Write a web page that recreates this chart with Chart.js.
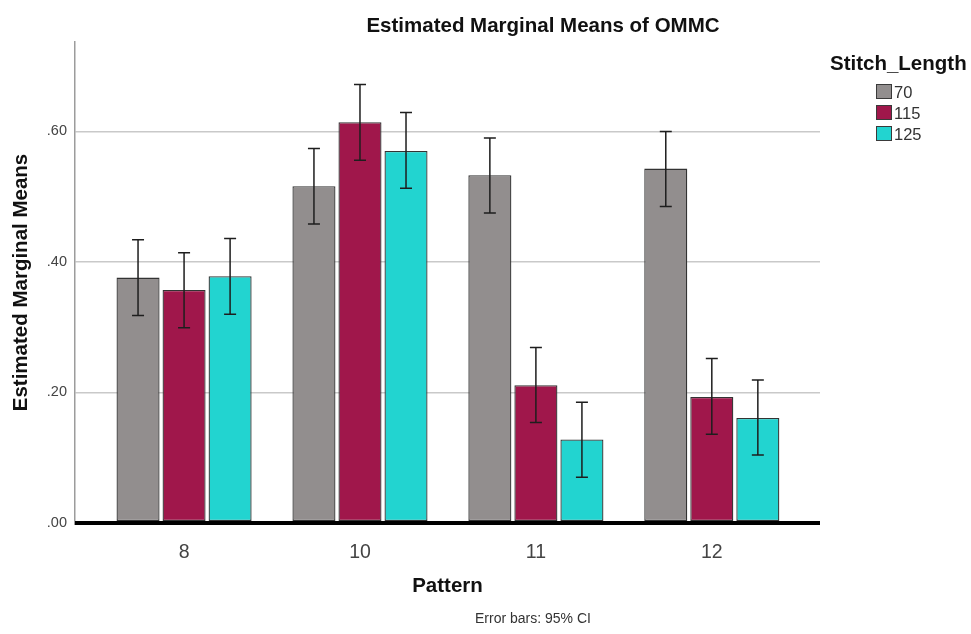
<!DOCTYPE html>
<html>
<head>
<meta charset="utf-8">
<script src="https://cdn.jsdelivr.net/npm/chart.js@4.4.1/dist/chart.umd.min.js"></script>
<style>
	html, body { margin: 0; padding: 0; background: #fff; }
	#wrap { position: relative; width: 971px; height: 634px; font-family: "Liberation Sans", Arial, sans-serif; }
	#chart { position: absolute; left: 0; top: 0; }
	.title { position: absolute; left: 543px; top: 15px; transform: translateX(-50%); font-size: 20.5px; font-weight: bold; line-height: 1; white-space: nowrap; color: #111; }
	.note { position: absolute; left: 533px; top: 611px; transform: translateX(-50%); font-size: 14px; line-height: 1; white-space: nowrap; color: #333; }
	.legend-title { position: absolute; left: 830px; top: 53px; font-size: 20.5px; font-weight: bold; line-height: 1; white-space: nowrap; color: #111; }
	.legend-item { position: absolute; left: 876px; height: 16px; font-size: 16.5px; line-height: 16px; color: #333; white-space: nowrap; }
	.legend-item span { display: inline-block; width: 14px; height: 13px; border: 1.5px solid #3a3a3a; vertical-align: top; margin-right: 2px; margin-top: 0px; }
</style>
</head>
<body>
<div id="wrap">
	<canvas id="chart" width="971" height="634"></canvas>
	<div class="title">Estimated Marginal Means of OMMC</div>
	<div class="legend-title">Stitch_Length</div>
	<div id="legend"></div>
	<div class="note">Error bars: 95% CI</div>
</div>
<script>
const patterns = ["8", "10", "11", "12"]
const stitchLengths = ["70", "115", "125"]

const means70 = [0.376, 0.516, 0.533, 0.543]
const means115 = [0.357, 0.614, 0.211, 0.193]
const means125 = [0.378, 0.570, 0.128, 0.161]

const lower70 = [0.318, 0.458, 0.475, 0.485]
const upper70 = [0.434, 0.574, 0.590, 0.600]
const lower115 = [0.299, 0.556, 0.154, 0.136]
const upper115 = [0.414, 0.672, 0.269, 0.252]
const lower125 = [0.320, 0.513, 0.070, 0.104]
const upper125 = [0.436, 0.629, 0.185, 0.219]

const yTicks = [0, 0.2, 0.4, 0.6]

const barColors = ["#928e8e", "#a0174b", "#22d4d0"]

function toPoints(values) {
	return values.map((v, i) => ({ x: i, y: v }))
}

const seriesMeans = [means70, means115, means125]
const seriesLower = [lower70, lower115, lower125]
const seriesUpper = [upper70, upper115, upper125]

// legend in html, built from the same series
document.getElementById("legend").innerHTML = stitchLengths.map((label, i) => `
	<div class="legend-item" style="top:${84 + i * 21}px"><span style="background:${barColors[i]}"></span>${label}</div>
`).join("")

const errorBars = {
	id: "errorBars",
	afterDatasetsDraw(chart) {
		const ctx = chart.ctx
		const y = chart.scales.y
		ctx.save()
		ctx.strokeStyle = "#1e1e1e"
		ctx.lineWidth = 1.5
		chart.data.datasets.forEach((ds, d) => {
			const meta = chart.getDatasetMeta(d)
			meta.data.forEach((bar, i) => {
				const top = y.getPixelForValue(seriesUpper[d][i])
				const bottom = y.getPixelForValue(seriesLower[d][i])
				const cap = 6
				ctx.beginPath()
				ctx.moveTo(bar.x, top)
				ctx.lineTo(bar.x, bottom)
				ctx.moveTo(bar.x - cap, top)
				ctx.lineTo(bar.x + cap, top)
				ctx.moveTo(bar.x - cap, bottom)
				ctx.lineTo(bar.x + cap, bottom)
				ctx.stroke()
			})
		})
		// thick baseline on top of the bars, as in the original
		const y0 = y.getPixelForValue(0)
		ctx.fillStyle = "#000"
		ctx.fillRect(chart.chartArea.left, y0 - 2, chart.chartArea.right - chart.chartArea.left, 4)
		ctx.restore()
	},
}

new Chart(document.getElementById("chart"), {
	type: "bar",
	data: {
		datasets: stitchLengths.map((label, i) => ({
			label,
			data: toPoints(seriesMeans[i]),
			backgroundColor: barColors[i],
			borderColor: "#333",
			borderWidth: 1.3,
			borderSkipped: false,
			categoryPercentage: 0.785,
			barPercentage: 0.935,
		})),
	},
	options: {
		responsive: false,
		animation: false,
		layout: { padding: { top: 42, right: 151, bottom: 0, left: 0 } },
		plugins: {
			legend: { display: false },
			tooltip: { enabled: false },
		},
		scales: {
			x: {
				type: "linear",
				min: -0.62,
				max: 3.615,
				bounds: "data",
				offset: false,
				grid: { display: false, offset: false },
				border: { display: false },
				afterBuildTicks: (scale) => {
					scale.ticks = patterns.map((p, i) => ({ value: i }))
				},
				afterFit: (scale) => { scale.height = 111 },
				ticks: {
					padding: 10,
					color: "#444",
					font: { family: "Liberation Sans", size: 19.5 },
					callback: (v) => patterns[v] ?? "",
				},
				title: {
					display: true,
					text: "Pattern",
					color: "#111",
					font: { family: "Liberation Sans", size: 20.5, weight: "bold" },
					padding: { top: 0, bottom: 35 },
				},
			},
			y: {
				min: 0,
				max: 0.737,
				bounds: "data",
				afterBuildTicks: (scale) => {
					scale.ticks = yTicks.map((v) => ({ value: v }))
				},
				afterFit: (scale) => { scale.width = 75 },
				grid: {
					drawTicks: false,
					color: (c) => (c.tick && c.tick.value === 0 ? "#000" : "#c9c9c9"),
					lineWidth: (c) => (c.tick && c.tick.value === 0 ? 4 : 1.5),
				},
				border: { display: true, color: "#9c9c9c", width: 1.5 },
				ticks: {
					padding: 8,
					color: "#444",
					font: { family: "Liberation Sans", size: 14.5 },
					callback: (v) => v.toFixed(2).replace(/^0/, ""),
				},
				title: {
					display: true,
					text: "Estimated Marginal Means",
					color: "#111",
					font: { family: "Liberation Sans", size: 20.5, weight: "bold" },
					padding: { top: 9, bottom: 0 },
				},
			},
		},
	},
	plugins: [errorBars],
})
</script>
</body>
</html>
